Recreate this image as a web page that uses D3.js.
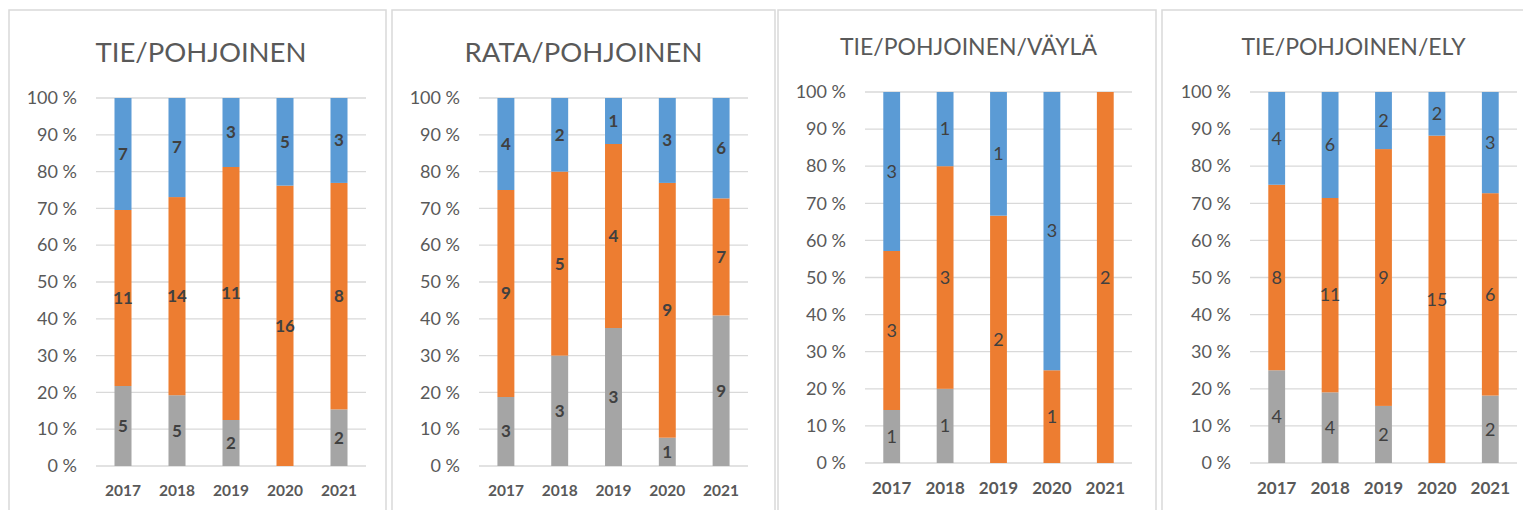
<!DOCTYPE html>
<html lang="fi">
<head>
<meta charset="UTF-8">
<title>Pohjoinen</title>
<script src="https://cdn.jsdelivr.net/npm/d3@7"></script>
<style>
  body { margin: 0; background: #fff; }
  svg text { font-family: Lato, "Open Sans", sans-serif; }
</style>
</head>
<body>
<div id="chart"></div>
<script>
// vuodet ja sarjat (harmaa = alin, oranssi = keski, sininen = ylin)
const years = ["2017", "2018", "2019", "2020", "2021"];

const tieGray = [5, 5, 2, 0, 2];
const tieOrange = [11, 14, 11, 16, 8];
const tieBlue = [7, 7, 3, 5, 3];

const rataGray = [3, 3, 3, 1, 9];
const rataOrange = [9, 5, 4, 9, 7];
const rataBlue = [4, 2, 1, 3, 6];

const vaylaGray = [1, 1, 0, 0, 0];
const vaylaOrange = [3, 3, 2, 1, 2];
const vaylaBlue = [3, 1, 1, 3, 0];

const elyGray = [4, 4, 2, 0, 2];
const elyOrange = [8, 11, 9, 15, 6];
const elyBlue = [4, 6, 2, 2, 3];

const yTicks = [0, 10, 20, 30, 40, 50, 60, 70, 80, 90, 100];
const keys = ["gray", "orange", "blue"];
const colors = { gray: "#A5A5A5", orange: "#ED7D31", blue: "#5B9BD5" };

const panels = [
  { title: "TIE/POHJOINEN", gray: tieGray, orange: tieOrange, blue: tieBlue,
    box: [9, 386], x: [96, 366], y: [98, 466], titleY: 52, titleSize: 27.5, bold: true, yearSize: 15.5 },
  { title: "RATA/POHJOINEN", gray: rataGray, orange: rataOrange, blue: rataBlue,
    box: [392, 775], x: [479, 748], y: [98, 466], titleY: 52, titleSize: 27.5, bold: true, yearSize: 15.5 },
  { title: "TIE/POHJOINEN/VÄYLÄ", gray: vaylaGray, orange: vaylaOrange, blue: vaylaBlue,
    box: [778, 1156], x: [865, 1132], y: [92, 463], titleY: 47, titleSize: 23, bold: false, yearSize: 17 },
  { title: "TIE/POHJOINEN/ELY", gray: elyGray, orange: elyOrange, blue: elyBlue,
    box: [1162, 1530], x: [1250, 1517], y: [92, 463], titleY: 47, titleSize: 23, bold: false, yearSize: 17 }
];

const width = 1523, height = 510;
const svg = d3.select("#chart").append("svg")
  .attr("width", width)
  .attr("height", height);

panels.forEach(p => {
  const g = svg.append("g");

  // kehys
  g.append("rect")
    .attr("x", p.box[0]).attr("y", 10)
    .attr("width", p.box[1] - p.box[0]).attr("height", 520)
    .attr("fill", "#fff")
    .attr("stroke", "#D9D9D9")
    .attr("stroke-width", 1.5);

  const rows = years.map((yr, i) => ({ year: yr, gray: p.gray[i], orange: p.orange[i], blue: p.blue[i] }));
  const stacked = d3.stack().keys(keys).offset(d3.stackOffsetExpand)(rows);

  const x = d3.scaleBand().domain(years).range(p.x).paddingInner(0.685).paddingOuter(0.3425);
  const y = d3.scaleLinear().domain([0, 1]).range([p.y[1], p.y[0]]);

  // ruudukko
  g.append("g").selectAll("line")
    .data(yTicks)
    .join("line")
    .attr("x1", p.x[0]).attr("x2", p.x[1])
    .attr("y1", d => y(d / 100)).attr("y2", d => y(d / 100))
    .attr("stroke", "#D9D9D9")
    .attr("stroke-width", 1.3);

  // y-akseli
  const yAxis = g.append("g")
    .attr("transform", `translate(${p.x[0] - 19},0)`)
    .call(d3.axisLeft(y).tickValues(yTicks.map(d => d / 100)).tickSize(0).tickFormat(d => `${Math.round(d * 100)} %`));
  yAxis.select(".domain").remove();
  yAxis.selectAll("text")
    .attr("fill", "#595959")
    .attr("font-size", 18)
    .attr("x", 0);

  // pylväät
  const layer = g.append("g").selectAll("g")
    .data(stacked)
    .join("g")
    .attr("fill", d => colors[d.key]);

  layer.selectAll("rect")
    .data(d => d)
    .join("rect")
    .attr("x", d => x(d.data.year))
    .attr("y", d => y(d[1]))
    .attr("width", x.bandwidth())
    .attr("height", d => y(d[0]) - y(d[1]));

  // arvotunnisteet
  stacked.forEach(s => {
    g.append("g").selectAll("text")
      .data(s.filter(d => d.data[s.key] > 0))
      .join("text")
      .attr("x", d => x(d.data.year) + x.bandwidth() / 2)
      .attr("y", d => y((d[0] + d[1]) / 2))
      .attr("dy", "0.35em")
      .attr("text-anchor", "middle")
      .attr("font-size", p.bold ? 17 : 18)
      .attr("font-weight", p.bold ? "bold" : "normal")
      .attr("fill", "#404040")
      .text(d => d.data[s.key]);
  });

  // x-akseli
  const xAxis = g.append("g")
    .attr("transform", `translate(0,${p.y[1]})`)
    .call(d3.axisBottom(x).tickSize(0).tickPadding(19));
  xAxis.select(".domain").remove();
  xAxis.selectAll("text")
    .attr("fill", "#595959")
    .attr("font-size", p.yearSize)
    .attr("font-weight", "bold");

  // otsikko
  g.append("text")
    .attr("x", (p.x[0] + p.x[1]) / 2 - 30)
    .attr("y", p.titleY)
    .attr("dy", "0.35em")
    .attr("text-anchor", "middle")
    .attr("font-size", p.titleSize)
    .attr("fill", "#595959")
    .text(p.title);
});
</script>
</body>
</html>
